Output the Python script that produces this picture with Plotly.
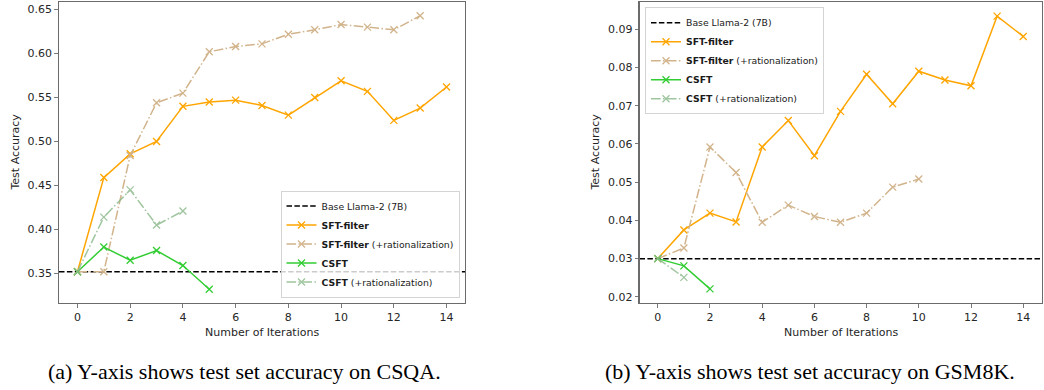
import plotly.graph_objects as go

W, H = 1044, 390

# ---------------- data ----------------
iters_sft = list(range(15))
# (a) CSQA
csqa_base = 0.352
csqa_sft = [0.352, 0.459, 0.486, 0.500, 0.540, 0.545, 0.547, 0.541, 0.530, 0.550, 0.569, 0.557, 0.524, 0.538, 0.562]
csqa_sft_rat = [0.352, 0.352, 0.484, 0.544, 0.555, 0.602, 0.608, 0.611, 0.622, 0.627, 0.633, 0.630, 0.627, 0.643]
csqa_csft = [0.352, 0.380, 0.365, 0.376, 0.359, 0.332]
csqa_csft_rat = [0.352, 0.414, 0.445, 0.405, 0.421]
# (b) GSM8K
gsm_base = 0.030
gsm_sft = [0.030, 0.0375, 0.0419, 0.0396, 0.0592, 0.0661, 0.0569, 0.0685, 0.0782, 0.0705, 0.0790, 0.0767, 0.0752, 0.0934, 0.0881]
gsm_sft_rat = [0.030, 0.0328, 0.0592, 0.0525, 0.0395, 0.0440, 0.0410, 0.0395, 0.0419, 0.0487, 0.0508]
gsm_csft = [0.030, 0.0281, 0.0221]
gsm_csft_rat = [0.030, 0.0251]

names = ["Base Llama-2 (7B)", "<b>SFT-filter</b>", "<b>SFT-filter</b> (+rationalization)",
         "<b>CSFT</b>", "<b>CSFT</b> (+rationalization)"]
captions = ["(a) Y-axis shows test set accuracy on CSQA.", "(b) Y-axis shows test set accuracy on GSM8K."]
xlabel = "Number of Iterations"
ylabel = "Test Accuracy"

# ---------------- styles ----------------
C_ORANGE = "#FFA500"
C_TAN = "#D2B48C"
C_GREEN = "#32CD32"
C_SEA = "#8FBC8F"
DASHDOT = "9.6px,2.4px,1.5px,2.4px"
DASHED = "5.5px,2.4px"
SANS = "DejaVu Sans"


def xp(px):
    return px / W


def yp(py):
    return 1 - py / H


fig = go.Figure()


def add_panel(xa, ya, legend, base, sft, sft_rat, csft, csft_rat):
    styles = [
        (sft, C_ORANGE, "solid", 1.0),
        (sft_rat, C_TAN, DASHDOT, 1.0),
        (csft, C_GREEN, "solid", 1.0),
        (csft_rat, C_SEA, DASHDOT, 0.85),
    ]
    fig.add_trace(go.Scatter(
        x=[-0.7, 14.7], y=[base, base], mode="lines", name=names[0],
        line=dict(color="black", width=1.5, dash=DASHED),
        xaxis=xa, yaxis=ya, legend=legend, showlegend=True))
    for i, (vals, col, dash, op) in enumerate(styles):
        fig.add_trace(go.Scatter(
            x=iters_sft[:len(vals)], y=vals, mode="lines+markers", name=names[i + 1],
            line=dict(color=col, width=1.5, dash=dash), opacity=op,
            marker=dict(symbol="x-thin", size=7, line=dict(color=col, width=1.3)),
            xaxis=xa, yaxis=ya, legend=legend))


add_panel("x", "y", "legend", csqa_base, csqa_sft, csqa_sft_rat, csqa_csft, csqa_csft_rat)
add_panel("x2", "y2", "legend2", gsm_base, gsm_sft, gsm_sft_rat, gsm_csft, gsm_csft_rat)

L1, R1 = xp(59), xp(465)
L2, R2 = xp(639.5), xp(1041.5)
T, B = yp(2), yp(303)

axis_common = dict(showline=True, mirror=True, linecolor="#6b6b6b", linewidth=1.3,
                   ticks="outside", ticklen=3.5, tickwidth=0.9, tickcolor="#6b6b6b",
                   showgrid=False, zeroline=False,
                   tickfont=dict(family=SANS, size=11, color="#262626"))

fig.update_layout(
    width=W, height=H,
    margin=dict(l=0, r=0, t=0, b=0),
    paper_bgcolor="white", plot_bgcolor="white",
    hovermode=False,
    xaxis=dict(domain=[L1, R1], range=[-0.7, 14.7], dtick=2, tick0=0, anchor="y", **axis_common),
    yaxis=dict(domain=[B, T], range=[0.3164, 0.6586], dtick=0.05, tick0=0.35,
               tickformat=".2f", anchor="x", **axis_common),
    xaxis2=dict(domain=[L2, R2], range=[-0.7, 14.7], dtick=2, tick0=0, anchor="y2", **axis_common),
    yaxis2=dict(domain=[B, T], range=[0.0184, 0.0971], dtick=0.01, tick0=0.02, tickformat=".2f",
                anchor="x2", **axis_common),
    legend=dict(x=xp(459.5), y=yp(297.5), xanchor="right", yanchor="bottom",
                bgcolor="rgba(255,255,255,0.8)", bordercolor="#d4d4d4", borderwidth=1,
                font=dict(family=SANS, size=9.3, color="#1a1a1a"), tracegroupgap=0),
    legend2=dict(x=xp(645), y=yp(7.3), xanchor="left", yanchor="top",
                 bgcolor="rgba(255,255,255,0.8)", bordercolor="#d4d4d4", borderwidth=1,
                 font=dict(family=SANS, size=9.3, color="#1a1a1a"), tracegroupgap=0),
    showlegend=True,
)

ann = []
for cx, lx in [((L1 + R1) / 2, xp(15)), ((L2 + R2) / 2, xp(595))]:
    ann.append(dict(text=xlabel, x=cx, y=yp(332), xref="paper", yref="paper",
                    xanchor="center", yanchor="middle",
                    showarrow=False, font=dict(family=SANS, size=11, color="#262626")))
    ann.append(dict(text=ylabel, x=lx, y=(T + B) / 2, xref="paper", yref="paper", textangle=-90,
                    xanchor="center", yanchor="middle",
                    showarrow=False, font=dict(family=SANS, size=11, color="#262626")))
ann.append(dict(text=captions[0], x=xp(244), y=yp(371), xref="paper", yref="paper",
                xanchor="center", yanchor="middle",
                showarrow=False, font=dict(family="Liberation Serif", size=22, color="black")))
ann.append(dict(text=captions[1], x=xp(810), y=yp(371), xref="paper", yref="paper",
                xanchor="center", yanchor="middle",
                showarrow=False, font=dict(family="Liberation Serif", size=22, color="black")))
fig.update_layout(annotations=ann)

fig.write_html("out.html",
               config={"displayModeBar": False, "staticPlot": True},
               post_script="document.body.style.margin='0';document.body.style.overflow='hidden';")
